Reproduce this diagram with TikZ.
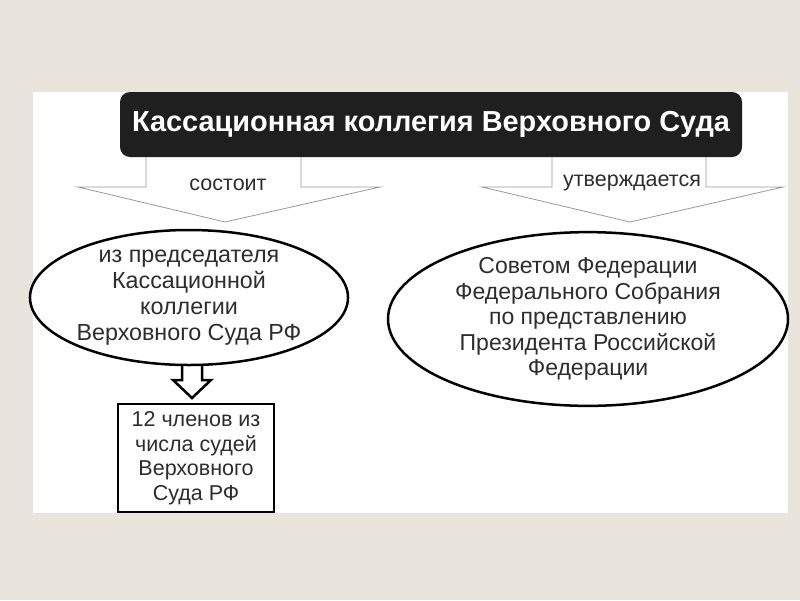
\documentclass[tikz,border=0pt]{standalone}
\usepackage{fontspec}
\setmainfont{Liberation Sans}
\usetikzlibrary{shapes,calc,positioning}
\definecolor{paper}{RGB}{234,229,220}
\definecolor{ink}{RGB}{45,45,45}

\begin{document}
\begin{tikzpicture}[x=1pt, y=-1pt,
    every node/.append style={font=\rmfamily\fontsize{23.3}{26}\selectfont, text=ink, align=center, inner sep=0pt},
    oval/.style={draw=black, line width=2.5pt, ellipse, fill=white},
    wide/.style={draw=black!40, line width=0.8pt, fill=white},
    narrow/.style={draw=black, line width=2.5pt, fill=white},
    lbl/.style={font=\rmfamily\fontsize{21.5}{24}\selectfont}]
    \useasboundingbox (0,0) rectangle (800,600);
    \fill[paper] (0,0) rectangle (800,600);
    \fill[white] (33,92) rectangle (788,513);
    % arrows under the title
    \draw[wide] (146,157) -- (146,187) -- (78,187) -- (225,222) -- (380,187) -- (301,187) -- (301,157);
    \draw[wide] (552,157) -- (552,187) -- (482,187) -- (630,222) -- (783,187) -- (706,187) -- (706,157);
    \node(TITLE)[fill=black!88, rounded corners=10pt, minimum width=622, minimum height=65,
        text=white, font=\bfseries\fontsize{28.9}{32}\selectfont] at (431,124.5) {Кассационная коллегия Верховного Суда};
    \node(consists)[lbl] at (228,185) {состоит};
    \node(approved)[lbl] at (632,183) {утверждается};
    \draw[narrow] (182,355) -- (182,380) -- (173,380) -- (192,398) -- (211,380) -- (202,380) -- (202,355);
    \node(chair)[oval, minimum width=312, minimum height=135] at (189,297.5)
      {из председателя\\Кассационной\\коллегии\\Верховного Суда РФ};
    \node(council)[oval, minimum width=400, minimum height=168, font=\rmfamily\fontsize{23}{25.5}\selectfont] at (588,319)
      {Советом Федерации\\Федерального Собрания\\по представлению\\Президента Российской\\Федерации};
    \node(members)[draw=black, line width=2.5pt, fill=white, minimum width=156, minimum height=108,
        font=\rmfamily\fontsize{21.5}{24.5}\selectfont] at (196,458)
      {12 членов из\\числа судей\\Верховного\\Суда РФ};
\end{tikzpicture}
\end{document}
